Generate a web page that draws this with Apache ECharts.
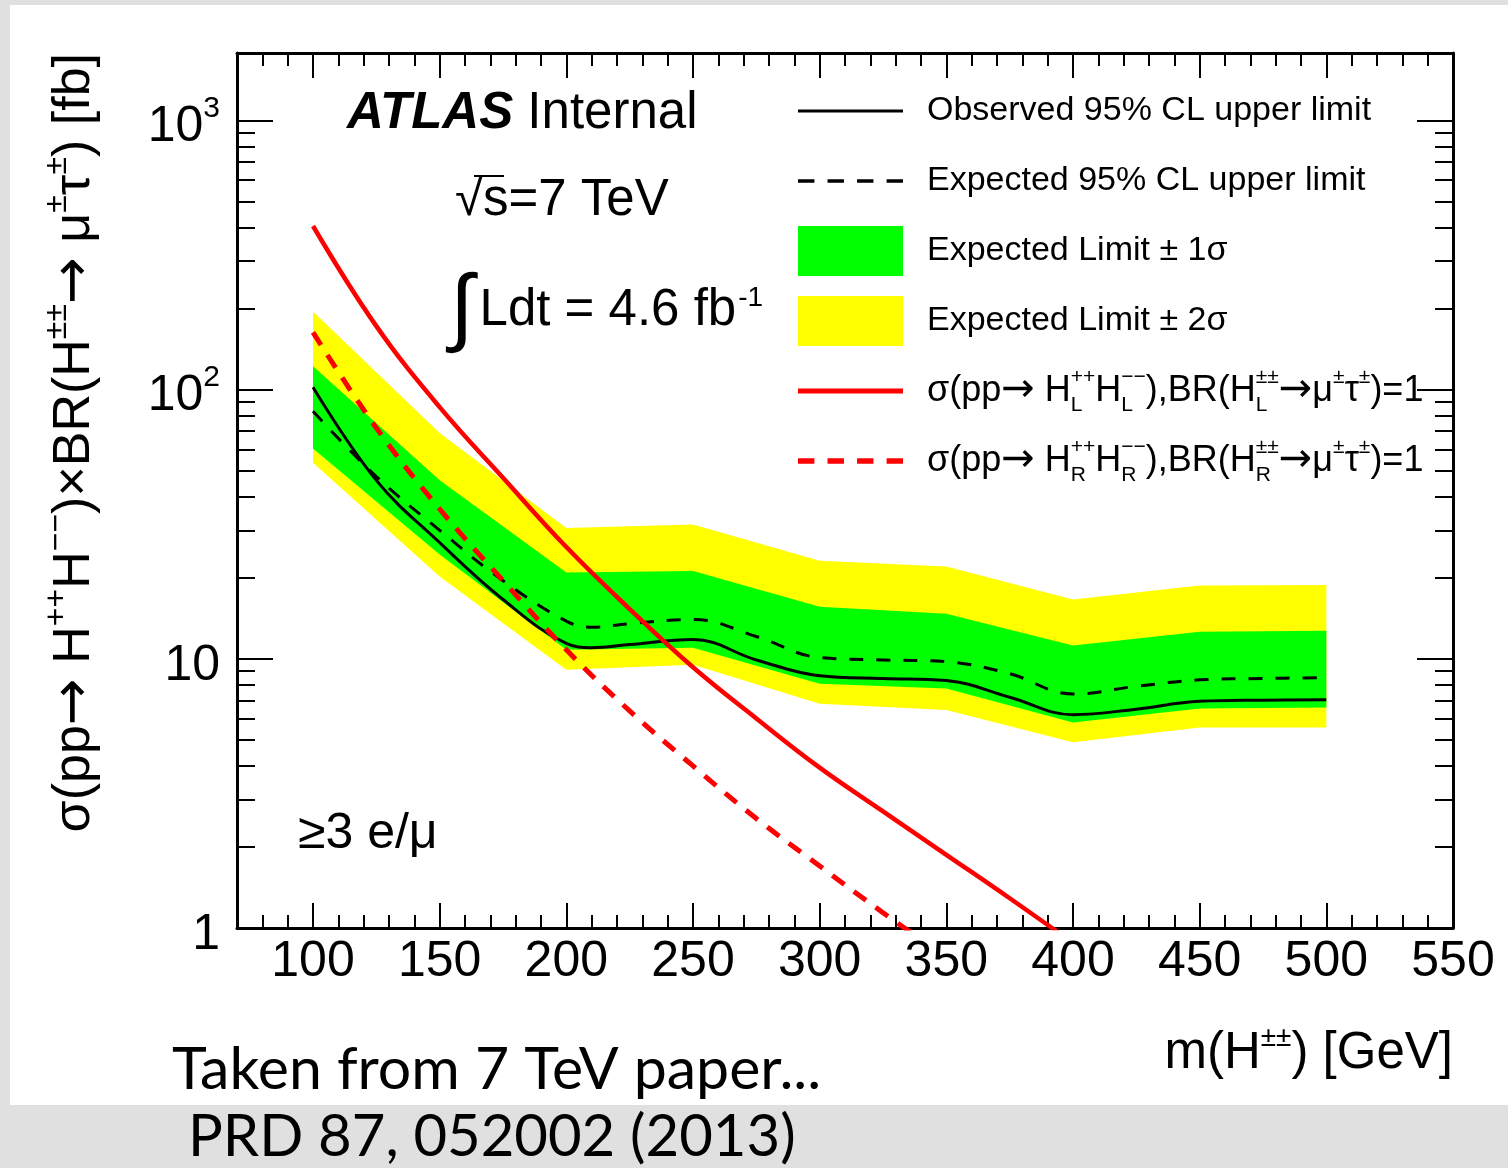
<!DOCTYPE html>
<html>
<head>
<meta charset="utf-8">
<script src="https://cdn.jsdelivr.net/npm/echarts@6.0.0/dist/echarts.min.js"></script>
<style>
  html, body { margin: 0; padding: 0; background: #e0e0e0; }
  #sheet { position: absolute; left: 10px; top: 5px; width: 1498px; height: 1100px; background: #ffffff; }
  #chart { position: absolute; left: 0; top: 0; width: 1508px; height: 1168px; }
</style>
</head>
<body>
<div id="sheet"></div>
<div id="chart"></div>
<script>
// ---- data -------------------------------------------------------------
// Mass points of the expected-limit bands [GeV]
const bandMass = [100, 150, 200, 250, 300, 350, 400, 450, 500];
// +-2 sigma band [fb]
const band2Low  = [53.5, 20.2, 9.1, 9.5, 6.8, 6.45, 4.9, 5.55, 5.55];
const band2High = [195, 69, 30.6, 31.5, 23.1, 22.0, 16.6, 18.7, 18.8];
// +-1 sigma band [fb]
const band1Low  = [60.4, 24.4, 10.8, 11.0, 8.07, 7.75, 5.8, 6.53, 6.59];
const band1High = [122, 46, 20.9, 21.2, 15.6, 14.7, 11.2, 12.6, 12.7];

// Observed and expected 95% CL upper limits [fb]
const limitMass     = [100, 125, 150, 175, 200, 210, 225, 250, 275, 300, 325, 350, 375, 400, 425, 450, 475, 500];
const observedLimit = [102, 46, 27, 16.6, 11.4, 11.0, 11.3, 11.8, 9.9, 8.65, 8.45, 8.3, 7.2, 6.2, 6.5, 6.95, 7.02, 7.05];
const expectedLimit = [83, 47.5, 30, 19.5, 13.8, 13.1, 13.5, 14.0, 12.1, 10.1, 9.9, 9.75, 8.8, 7.4, 7.9, 8.35, 8.45, 8.5];

// Theory cross sections times BR=1 for left- and right-handed H++ [fb]
const xsecMass  = [100, 125, 150, 175, 200, 225, 250, 275, 300, 325, 350, 375, 400];
const xsecLeft  = [405, 172, 86, 47, 26, 15.3, 9.3, 6.0, 3.94, 2.71, 1.87, 1.29, 0.88];
const xsecRight = [163, 72, 36, 19.5, 10.8, 6.4, 4.0, 2.55, 1.7, 1.14, 0.78, 0.54, 0.37];

// Axis ranges and tick labels
const xMin = 70, xMax = 550;
const xTickLabels = [100, 150, 200, 250, 300, 350, 400, 450, 500, 550];
const yMin = 1, yMax = 1778.28;
const yDecades = [1, 10, 100, 1000];

// ---- helpers ----------------------------------------------------------
const FONT = '"Liberation Sans", Arial, Helvetica, sans-serif';
const ARROW_FONT = '"DejaVu Sans", sans-serif';
const BLACK = '#000000';

const xMinorTicks = [];
for (let v = 80; v <= xMax; v += 10) if (v % 50 !== 0) xMinorTicks.push(v);

const yMajorLog = yDecades.map(d => Math.log10(d));
const yMinorLog = [];
yDecades.forEach(d => { for (let k = 2; k <= 9; k++) if (k * d <= yMax) yMinorLog.push(Math.log10(k * d)); });
const yLogMax = Math.log10(yMax);

function xAxisDef(position, ticks, len, withLabels, withLine) {
  return {
    type: 'value', position, min: xMin, max: xMax,
    axisLine: { show: withLine, onZero: false, lineStyle: { color: BLACK, width: 3 } },
    axisTick: { show: true, inside: true, length: len, customValues: ticks, lineStyle: { color: BLACK, width: 2 } },
    axisLabel: withLabels ? { show: true, customValues: xTickLabels, margin: 9, fontSize: 50, fontFamily: FONT, color: BLACK } : { show: false },
    splitLine: { show: false }
  };
}

function yTickAxis(position, ticks, len, withLabels, withLine) {
  return {
    type: 'value', position, min: 0, max: yLogMax,
    axisLine: { show: withLine, onZero: false, lineStyle: { color: BLACK, width: 3 } },
    axisTick: { show: true, inside: true, length: len, customValues: ticks, lineStyle: { color: BLACK, width: 2 } },
    axisLabel: withLabels ? {
      show: true, customValues: yMajorLog, margin: 17, padding: [14, 0, 0, 0],
      fontSize: 50, fontFamily: FONT, color: BLACK,
      formatter: v => {
        const e = Math.round(v);
        if (e === 0) return '{b|1}';
        if (e === 1) return '{b|10}';
        return '{b|10}{s|' + e + '}';
      },
      rich: {
        b: { fontSize: 50, fontFamily: FONT, color: BLACK },
        s: { fontSize: 30, fontFamily: FONT, color: BLACK, padding: [0, 0, 37, 0] }
      }
    } : { show: false },
    splitLine: { show: false }
  };
}

function bandRenderer(lo, hi, color) {
  return function (params, api) {
    if (params.dataIndex !== 0) return null;
    const pts = [];
    for (let i = 0; i < bandMass.length; i++) pts.push(api.coord([bandMass[i], hi[i]]));
    for (let i = bandMass.length - 1; i >= 0; i--) pts.push(api.coord([bandMass[i], lo[i]]));
    return { type: 'polygon', shape: { points: pts }, style: { fill: color } };
  };
}

const pairs = (xs, ys) => xs.map((x, i) => [x, ys[i]]);

const NAME_OBS = 'Observed 95% CL upper limit';
const NAME_EXP = 'Expected 95% CL upper limit';
const NAME_1S = 'Expected Limit ± 1σ';
const NAME_2S = 'Expected Limit ± 2σ';
const NAME_L = 'σ(pp→ HL++HL−−),BR(HL±±→μ±τ±)=1';
const NAME_R = 'σ(pp→ HR++HR−−),BR(HR±±→μ±τ±)=1';

const crossSectionLabel = h =>
  '{n|σ(pp}{ar|→}{n| H}{sb|' + h + '}{sp|++}{n|H}{sb|' + h + '}{sp|−−}{n|),BR(H}{sb|' + h +
  '}{sp|±±}{ar|→}{n|μ}{sp|±}{n|τ}{sp|±}{n|)=1}';

const legendLabels = {};
legendLabels[NAME_L] = crossSectionLabel('L');
legendLabels[NAME_R] = crossSectionLabel('R');

const dashIcon = h => 'path://M0,0h15v' + h + 'h-15z M27,0h15v' + h + 'h-15z M54,0h15v' + h + 'h-15z M81,0h15v' + h + 'h-15z';

// ---- chart ------------------------------------------------------------
const chart = echarts.init(document.getElementById('chart'), null, { renderer: 'canvas' });

chart.setOption({
  animation: false,
  backgroundColor: 'transparent',
  grid: { left: 237, right: 55, top: 53, bottom: 240, containLabel: false, outerBoundsMode: 'none' },
  xAxis: [
    xAxisDef('bottom', xTickLabels, 25, true, true),
    xAxisDef('bottom', xMinorTicks, 13, false, false),
    xAxisDef('top', xTickLabels, 25, false, true),
    xAxisDef('top', xMinorTicks, 13, false, false)
  ],
  yAxis: [
    {
      type: 'log', logBase: 10, min: yMin, max: yMax, position: 'left',
      axisLine: { show: true, lineStyle: { color: BLACK, width: 3 } },
      axisTick: { show: false }, axisLabel: { show: false },
      splitLine: { show: false }, minorTick: { show: false }
    },
    yTickAxis('left', yMajorLog, 36, true, false),
    yTickAxis('left', yMinorLog, 18, false, false),
    yTickAxis('right', yMajorLog, 36, false, true),
    yTickAxis('right', yMinorLog, 18, false, false)
  ],
  legend: {
    orient: 'vertical', left: 798, top: 86, padding: 0,
    itemWidth: 105, itemHeight: 50, itemGap: 20,
    selectedMode: false, symbolKeepAspect: true,
    itemStyle: { borderWidth: 0 },
    textStyle: {
      fontFamily: FONT, fontSize: 34, lineHeight: 50, color: BLACK, padding: [0, 0, 0, 19],
      rich: {
        n: { fontFamily: FONT, fontSize: 36, lineHeight: 50, color: BLACK },
        ar: { fontFamily: ARROW_FONT, fontSize: 40, lineHeight: 50, color: BLACK },
        sp: { fontFamily: FONT, fontSize: 21, lineHeight: 20, color: BLACK, padding: [0, 0, 28, 0] },
        sb: { fontFamily: FONT, fontSize: 21, lineHeight: 20, color: BLACK, padding: [28, 0, 0, 0], width: 0 }
      }
    },
    formatter: name => legendLabels[name] || name,
    data: [
      { name: NAME_OBS, icon: 'path://M0,0H105V3H0Z' },
      { name: NAME_EXP, icon: dashIcon(3) },
      { name: NAME_1S, icon: 'rect' },
      { name: NAME_2S, icon: 'rect' },
      { name: NAME_L, icon: 'path://M0,0H105V5H0Z' },
      { name: NAME_R, icon: dashIcon(5) }
    ]
  },
  series: [
    {
      type: 'custom', name: NAME_2S, xAxisIndex: 0, yAxisIndex: 0,
      itemStyle: { color: '#ffff00' }, color: '#ffff00',
      data: bandMass.map((m, i) => [m, band2Low[i], band2High[i]]),
      encode: { x: 0, y: [1, 2] },
      renderItem: bandRenderer(band2Low, band2High, '#ffff00')
    },
    {
      type: 'custom', name: NAME_1S, xAxisIndex: 0, yAxisIndex: 0,
      itemStyle: { color: '#00ff00' }, color: '#00ff00',
      data: bandMass.map((m, i) => [m, band1Low[i], band1High[i]]),
      encode: { x: 0, y: [1, 2] },
      renderItem: bandRenderer(band1Low, band1High, '#00ff00')
    },
    {
      type: 'line', name: NAME_OBS, xAxisIndex: 0, yAxisIndex: 0,
      data: pairs(limitMass, observedLimit), symbol: 'none', showSymbol: false,
      smooth: 0.4, color: BLACK, lineStyle: { color: BLACK, width: 3 }
    },
    {
      type: 'line', name: NAME_EXP, xAxisIndex: 0, yAxisIndex: 0,
      data: pairs(limitMass, expectedLimit), symbol: 'none', showSymbol: false,
      smooth: 0.4, color: BLACK, lineStyle: { color: BLACK, width: 3, type: [14, 13] }
    },
    {
      type: 'line', name: NAME_L, xAxisIndex: 0, yAxisIndex: 0,
      data: pairs(xsecMass, xsecLeft), symbol: 'none', showSymbol: false,
      smooth: 0.4, color: '#ff0000', lineStyle: { color: '#ff0000', width: 4.5 }
    },
    {
      type: 'line', name: NAME_R, xAxisIndex: 0, yAxisIndex: 0,
      data: pairs(xsecMass, xsecRight), symbol: 'none', showSymbol: false,
      smooth: 0.4, color: '#ff0000', lineStyle: { color: '#ff0000', width: 5, type: [15, 12] }
    }
  ],
  graphic: [
    {
      type: 'text', x: 347, y: 114,
      style: {
        text: '{a|ATLAS}{b| Internal}', verticalAlign: 'middle', fill: BLACK,
        rich: {
          a: { fontFamily: FONT, fontSize: 51, fontWeight: 'bold', fontStyle: 'italic', fill: BLACK },
          b: { fontFamily: FONT, fontSize: 51, fill: BLACK }
        }
      }
    },
    {
      type: 'text', x: 455, y: 201,
      style: { text: '√s=7 TeV', fontFamily: FONT, fontSize: 51, fill: BLACK, verticalAlign: 'middle' }
    },
    {
      type: 'line', shape: { x1: 474, y1: 176, x2: 504, y2: 176 },
      style: { stroke: BLACK, lineWidth: 2 }
    },
    {
      type: 'text', x: 450, y: 311,
      style: {
        text: '{i|∫}{n|Ldt = 4.6 fb}{s|-1}', verticalAlign: 'middle', fill: BLACK,
        rich: {
          i: { fontFamily: FONT, fontSize: 86, fill: BLACK, padding: [0, 6, 0, 0] },
          n: { fontFamily: FONT, fontSize: 51, fill: BLACK },
          s: { fontFamily: FONT, fontSize: 28, fill: BLACK, padding: [0, 0, 26, 2] }
        }
      }
    },
    {
      type: 'text', x: 298, y: 834,
      style: { text: '≥3 e/μ', fontFamily: FONT, fontSize: 50, fill: BLACK, verticalAlign: 'middle' }
    },
    {
      type: 'text', x: 75, y: 53, rotation: Math.PI / 2,
      style: {
        text: '{n|σ(pp}{ar|→}{n| H}{s|++}{n|H}{s|−−}{n|)×BR(H}{s|±±}{ar|→}{n| μ}{s|±}{n|τ}{s|±}{n|) [fb]}',
        align: 'right', verticalAlign: 'middle', fill: BLACK,
        rich: {
          n: { fontFamily: FONT, fontSize: 52, fill: BLACK },
          ar: { fontFamily: ARROW_FONT, fontSize: 56, fill: BLACK },
          s: { fontFamily: FONT, fontSize: 32, fill: BLACK, padding: [0, 0, 36, 0] }
        }
      }
    },
    {
      type: 'text', x: 1453, y: 1054,
      style: {
        text: '{n|m(H}{s|±±}{n|) [GeV]}', align: 'right', verticalAlign: 'middle', fill: BLACK,
        rich: {
          n: { fontFamily: FONT, fontSize: 51, fill: BLACK },
          s: { fontFamily: FONT, fontSize: 28, fill: BLACK, padding: [0, 0, 32, 0] }
        }
      }
    },
    {
      type: 'text', x: 172, y: 1070,
      style: { text: 'Taken from 7 TeV paper...', fontFamily: 'Lato, "Open Sans", sans-serif', fontSize: 59, fill: BLACK, verticalAlign: 'middle' }
    },
    {
      type: 'text', x: 188, y: 1137,
      style: { text: 'PRD 87, 052002 (2013)', fontFamily: 'Lato, "Open Sans", sans-serif', fontSize: 58, fill: BLACK, verticalAlign: 'middle' }
    }
  ]
});
</script>
</body>
</html>
